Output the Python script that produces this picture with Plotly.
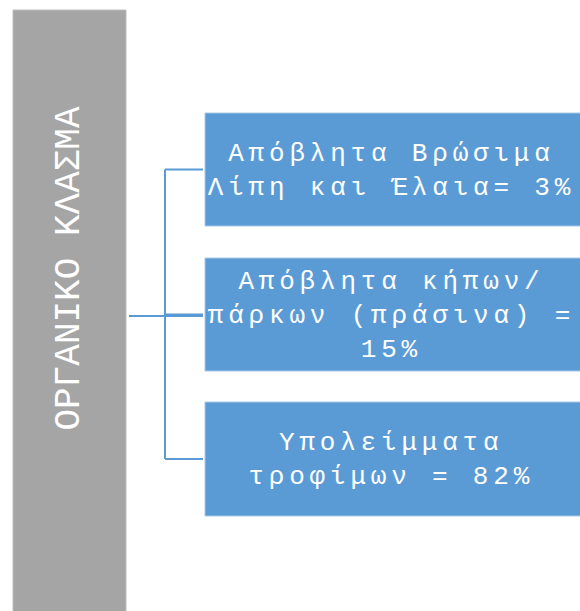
import plotly.graph_objects as go

# ---- content ----
root_label = "ΟΡΓΑΝΙΚΟ ΚΛΑΣΜΑ"
child_labels = [
    "Απόβλητα Βρώσιμα<br>Λίπη και Έλαια= 3%",
    "Απόβλητα κήπων/<br>πάρκων (πράσινα) =<br>15%",
    "Υπολείμματα<br>τροφίμων = 82%",
]

# ---- layout (pixel coordinates of the diagram canvas) ----
W, H = 580, 611
root_box = (13, 10, 126, 611)          # x0, y0, x1, y1
child_x = (205, 580)
child_boxes_y = [(113, 226), (258, 371), (402, 516)]
trunk_x = 165
GRAY = "#A5A5A5"
BLUE = "#5B9BD5"

shapes = []
annotations = []

# root box
shapes.append(dict(type="rect", xref="x", yref="y",
                   x0=root_box[0], y0=root_box[1], x1=root_box[2], y1=root_box[3] + 5,
                   fillcolor=GRAY, line=dict(color="#BDBDBD", width=1), layer="below"))
annotations.append(dict(x=(root_box[0] + root_box[2]) / 2 - 1, y=269, xref="x", yref="y",
                        text=root_label, textangle=-90, showarrow=False,
                        font=dict(family="Liberation Mono", size=36, color="white")))

# connectors
centers = [(a + b) / 2 for a, b in child_boxes_y]
line_style = dict(color=BLUE, width=2)
shapes.append(dict(type="line", xref="x", yref="y", x0=root_box[2] + 3, x1=child_x[0] - 2,
                   y0=316, y1=316, line=line_style))
shapes.append(dict(type="line", xref="x", yref="y", x0=trunk_x, x1=trunk_x,
                   y0=centers[0], y1=centers[-1], line=line_style))
for c in centers:
    shapes.append(dict(type="line", xref="x", yref="y", x0=trunk_x, x1=child_x[0] - 2,
                       y0=c, y1=c, line=line_style))

# child boxes
for (y0, y1), lab in zip(child_boxes_y, child_labels):
    shapes.append(dict(type="rect", xref="x", yref="y", x0=child_x[0], x1=child_x[1] + 5,
                       y0=y0, y1=y1, fillcolor=BLUE,
                       line=dict(color="#A9C8E8", width=1), layer="below"))
    annotations.append(dict(x=(child_x[0] + child_x[1]) / 2 - 1, y=(y0 + y1) / 2 + 1,
                            xref="x", yref="y", text=lab, showarrow=False,
                            font=dict(family="Liberation Mono", size=26, color="white"),
                            align="center"))

fig = go.Figure()
fig.update_layout(
    width=W, height=H,
    margin=dict(l=0, r=0, t=0, b=0),
    paper_bgcolor="white", plot_bgcolor="white",
    xaxis=dict(range=[0, W], visible=False, fixedrange=True),
    yaxis=dict(range=[H, 0], visible=False, fixedrange=True),
    shapes=shapes, annotations=annotations, showlegend=False,
)

post = """
document.body.style.margin = '0';
document.body.style.overflow = 'hidden';
document.querySelectorAll('g.annotation').forEach(function(g){
  var idx = g.getAttribute('data-index');
  if (idx !== '0') {
    g.querySelectorAll('text.annotation-text').forEach(function(t){ t.style.letterSpacing='4.8px'; });
  }
});
"""
fig.write_html("out.html", config={"displayModeBar": False}, post_script=post)
